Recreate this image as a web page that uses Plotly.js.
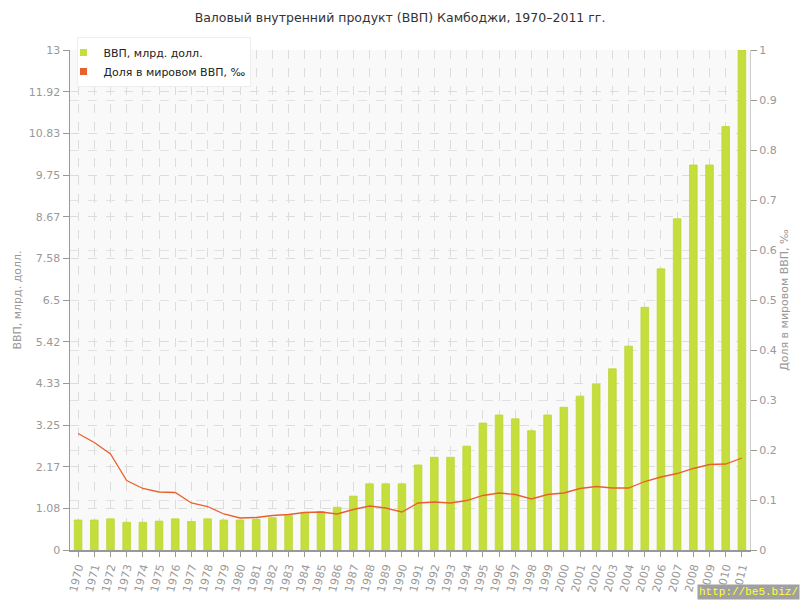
<!DOCTYPE html>
<html>
<head>
<meta charset="utf-8">
<script src="https://cdn.plot.ly/plotly-3.0.1.min.js"></script>
<style>html,body{margin:0;padding:0;background:#fff;}#chart{width:800px;height:600px;}</style>
</head>
<body>
<div id="chart"></div>
<script>
var years = ["1970","1971","1972","1973","1974","1975","1976","1977","1978","1979","1980","1981","1982","1983","1984","1985","1986","1987","1988","1989","1990","1991","1992","1993","1994","1995","1996","1997","1998","1999","2000","2001","2002","2003","2004","2005","2006","2007","2008","2009","2010","2011"];
var gdp = [0.78,0.78,0.81,0.72,0.72,0.75,0.81,0.74,0.81,0.78,0.78,0.80,0.84,0.90,0.98,1.00,1.11,1.40,1.72,1.72,1.72,2.21,2.41,2.41,2.70,3.30,3.51,3.41,3.10,3.51,3.71,4.00,4.31,4.71,5.30,6.31,7.31,8.61,10.01,10.01,11.01,13.0];
var share = [0.233,0.215,0.192,0.139,0.123,0.116,0.115,0.094,0.087,0.072,0.064,0.065,0.069,0.071,0.075,0.076,0.072,0.081,0.088,0.084,0.076,0.094,0.096,0.094,0.099,0.109,0.114,0.111,0.102,0.111,0.114,0.123,0.127,0.124,0.124,0.137,0.146,0.153,0.163,0.171,0.172,0.184];
var leftTickText = ["0","1.08","2.17","3.25","4.33","5.42","6.5","7.58","8.67","9.75","10.83","11.92","13"];
var rightTickText = ["0","0.1","0.2","0.3","0.4","0.5","0.6","0.7","0.8","0.9","1"];
var seriesNames = ["ВВП, млрд. долл.", "Доля в мировом ВВП, ‰"];

var leftMax = 13, rightMax = 1;
var leftTickVals = leftTickText.map(function(_, i){ return i * leftMax / (leftTickText.length - 1); });
var rightTickVals = rightTickText.map(function(_, i){ return i * rightMax / (rightTickText.length - 1); });

var green = "#c6de3c", orange = "#e8612c";
var baseFont = "DejaVu Sans, Verdana, sans-serif";

var traces = [
  {type: "bar", x: years, y: gdp, width: 0.47, marker: {color: green, line: {color: "#bcd634", width: 0.8}},
   showlegend: false, hoverinfo: "x+y", yaxis: "y"},
  {type: "scatter", mode: "lines", x: years, y: share, yaxis: "y2",
   line: {color: orange, width: 1.3}, showlegend: false},
  {type: "scatter", mode: "markers", x: [null], y: [null], name: seriesNames[0],
   marker: {symbol: "square", size: 7, color: green}, showlegend: true},
  {type: "scatter", mode: "markers", x: [null], y: [null], name: seriesNames[1], yaxis: "y2",
   marker: {symbol: "square", size: 7, color: orange}, showlegend: true}
];

var layout = {
  width: 800, height: 600,
  margin: {l: 70, r: 50, t: 50, b: 50},
  paper_bgcolor: "#ffffff",
  plot_bgcolor: "#f9f9f9",
  font: {family: baseFont, size: 11, color: "#999"},
  title: {text: "Валовый внутренний продукт (ВВП) Камбоджи, 1970–2011 гг.",
          font: {family: baseFont, size: 12.5, color: "#333"}, x: 0.5, xanchor: "center", y: 0.97, yanchor: "middle"},
  bargap: 0.5,
  xaxis: {type: "category", range: [-0.5, years.length - 0.5], tickangle: -76,
          showgrid: true, gridcolor: "#dcdcdc", griddash: "dash", gridwidth: 1,
          showline: true, linecolor: "#999", linewidth: 1.5,
          ticks: "outside", ticklen: 5, tickcolor: "#999",
          tickfont: {family: baseFont, size: 11, color: "#999"}, automargin: false, fixedrange: true},
  yaxis: {range: [0, leftMax], tickvals: leftTickVals, ticktext: leftTickText,
          showgrid: true, gridcolor: "#dcdcdc", griddash: "dash", zeroline: false,
          showline: true, linecolor: "#999", linewidth: 1.5,
          ticks: "outside", ticklen: 6, tickcolor: "#999",
          tickfont: {family: baseFont, size: 11, color: "#999"},
          title: {text: seriesNames[0], font: {family: baseFont, size: 11, color: "#999"}, standoff: 5},
          automargin: false, fixedrange: true},
  yaxis2: {range: [0, rightMax], tickvals: rightTickVals, ticktext: rightTickText, overlaying: "y", side: "right",
          showgrid: true, gridcolor: "#e2e2e2", griddash: "dash", zeroline: false,
          showline: true, linecolor: "#ccc", linewidth: 1,
          ticks: "outside", ticklen: 6, tickcolor: "#999",
          tickfont: {family: baseFont, size: 11, color: "#999"},
          title: {text: seriesNames[1], font: {family: baseFont, size: 11, color: "#999"}, standoff: 4},
          automargin: false, fixedrange: true},
  legend: {x: 0.011, y: 1.026, xanchor: "left", yanchor: "top", bgcolor: "#ffffff", bordercolor: "#eeeeee", borderwidth: 1,
           font: {family: baseFont, size: 11, color: "#222"}, tracegroupgap: 0, itemwidth: 30, indentation: -15},
  annotations: [{text: "http://be5.biz/", xref: "paper", yref: "paper", x: 1.074, y: -0.1, xanchor: "right", yanchor: "bottom",
                 showarrow: false, bgcolor: "#a0a0a0", borderpad: 1,
                 font: {family: "Liberation Mono, DejaVu Sans Mono, monospace", size: 11, color: "#ffff33"}}]
};

Plotly.newPlot("chart", traces, layout, {displayModeBar: false, staticPlot: true});
</script>
</body>
</html>
